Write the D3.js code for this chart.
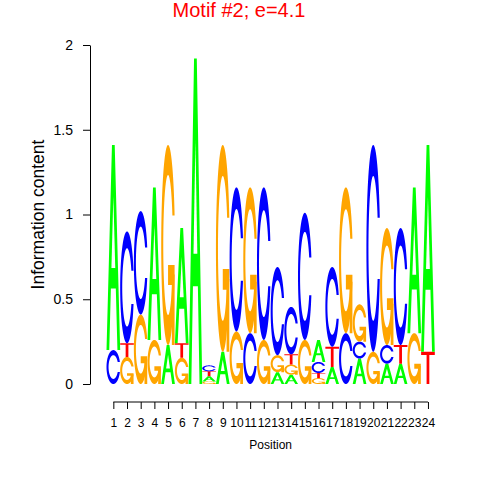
<!DOCTYPE html>
<html>
<head>
<meta charset="utf-8">
<script src="https://cdn.jsdelivr.net/npm/d3@7"></script>
<style>
  html, body { margin: 0; padding: 0; background: #fff; }
  svg { display: block; }
  text { font-family: "Liberation Sans", Arial, Helvetica, sans-serif; }
</style>
</head>
<body>
<svg id="chart" width="480" height="480"></svg>
<script>
// ---- data (information content per letter, per position) ----
const positions = d3.range(1, 25);
const hA = [1.21, 0, 0, 0.90, 0.23, 0.68, 1.92, 0.03, 0.19, 0, 0, 0, 0.07, 0.055, 0, 0.13, 0.10, 0, 0.15, 0, 0.12, 0.12, 0.86, 1.22];
const hC = [0.20, 0.66, 0.61, 0, 0, 0, 0, 0.035, 0, 0.85, 0.30, 0.90, 0.52, 0.28, 0.75, 0.065, 0.47, 0.30, 0.10, 1.22, 0.11, 0.69, 0, 0];
const hG = [0, 0.16, 0.41, 0.26, 1.18, 0.155, 0, 0.015, 1.22, 0.31, 0.86, 0.26, 0.10, 0.06, 0.26, 0.035, 0, 0.86, 0.22, 0.19, 0.69, 0, 0.30, 0];
const hT = [0, 0.08, 0, 0, 0, 0.085, 0, 0.03, 0, 0, 0, 0, 0, 0.06, 0, 0.03, 0.12, 0, 0, 0, 0, 0.11, 0, 0.19];
// stacking order, bottom to top
const stackOrder = ["CA","GTC","GC","GA","AG","GTA","A","GATC","AG","GC","CG","GC","AGC","AGTC","GC","GTCA","ATC","CG","ACG","GC","ACG","ATC","GA","TA"];
const yTicks = [0, 0.5, 1, 1.5, 2];
const titleText = "Motif #2; e=4.1";
const xLabel = "Position";
const yLabel = "Information content";

const heights = {A: hA, C: hC, G: hG, T: hT};
const colors = {A: "#00FF00", C: "#0000FF", G: "#FFA500", T: "#FF0000"};

// ---- letter shapes in unit box (x right, y up) ----
function arcPts(r, a0, a1, n) {
  const pts = [];
  for (let i = 0; i < n; i++) {
    const a = a0 + (a1 - a0) * i / (n - 1);
    pts.push([0.5 + r * Math.sin(a), 0.5 + r * Math.cos(a)]);
  }
  return pts;
}
function ringC() {
  const l1 = arcPts(0.5, 0.3 + Math.PI / 2, Math.PI, 100);
  const l2 = arcPts(0.5, Math.PI, 1.5 * Math.PI, 100);
  const l = l1.concat(l2);
  const maxY = d3.max(l1, p => p[1]);
  const outer = l.concat(l.slice().reverse().map(p => [p[0], 1 - p[1]]));
  const i1 = arcPts(0.35, 0.3 + Math.PI / 2, Math.PI, 100).filter(p => p[1] <= maxY);
  i1[0] = [i1[0][0], maxY];
  const i2 = arcPts(0.35, Math.PI, 1.5 * Math.PI, 100);
  const inner = i1.concat(i2);
  const inner2 = inner.concat(inner.slice().reverse().map(p => [p[0], 1 - p[1]]));
  return outer.concat(inner2.slice().reverse());
}
function shapes(letter) {
  if (letter === "A") {
    return [{pts: [[0,0],[0.4,1],[0.6,1],[1,0],[0.8,0],[0.68,0.3],[0.32,0.3],[0.2,0]], fill: colors.A},
            {pts: [[0.36,0.4],[0.5,0.75],[0.64,0.4]], fill: "#FFFFFF"}];
  }
  if (letter === "T") {
    return [{pts: [[0,1],[1,1],[1,0.9],[0.6,0.9],[0.6,0],[0.4,0],[0.4,0.9],[0,0.9]], fill: colors.T}];
  }
  if (letter === "C") {
    return [{pts: ringC(), fill: colors.C}];
  }
  // G
  const r1 = 0.5 + 0.5 * Math.sin(0.3 + Math.PI / 2);
  const h1 = 0.4;
  return [{pts: ringC(), fill: colors.G},
          {pts: [[r1,h1],[0.5,h1],[0.5,h1-0.1],[r1-0.2,h1-0.1],[r1-0.2,0],[r1,0]], fill: colors.G}];
}

// ---- layout ----
const svg = d3.select("#chart");
const x = d3.scaleLinear().domain([0.5, 24.5]).range([106.5, 434.8]);
const y = d3.scaleLinear().domain([0, 2]).range([384, 45]);

// build letter list
const letters = [];
positions.forEach((p, i) => {
  let base = 0;
  for (const L of stackOrder[i]) {
    const h = heights[L][i];
    if (h > 0) {
      letters.push({pos: p, letter: L, y0: base, y1: base + h});
      base += h;
    }
  }
});

const line = d3.line();
const g = svg.append("g");
letters.forEach(d => {
  const xs = d3.scaleLinear().domain([0, 1]).range([x(d.pos - 0.5), x(d.pos + 0.5)]);
  const ys = d3.scaleLinear().domain([0, 1]).range([y(d.y0), y(d.y1)]);
  shapes(d.letter).forEach(s => {
    g.append("path")
      .attr("d", line(s.pts.map(p => [xs(p[0]), ys(p[1])])) + "Z")
      .attr("fill", s.fill)
      .attr("stroke", "none");
  });
});

// ---- axes ----
const yAxis = d3.axisLeft(y).tickValues(yTicks).tickFormat(d3.format("")).tickSize(7).tickSizeOuter(0).tickPadding(10);
const ya = svg.append("g").attr("transform", "translate(90,0)").call(yAxis);
ya.selectAll("text").attr("font-size", 14).attr("fill", "#000").attr("font-family", "Liberation Sans, Arial, sans-serif");
ya.selectAll("line, path").attr("stroke", "#000");

const xAxis = d3.axisBottom(x).tickValues(positions).tickSize(7).tickSizeOuter(0).tickPadding(9);
const xa = svg.append("g").attr("transform", "translate(0,402)").call(xAxis);
xa.select(".domain").remove();
xa.append("line").attr("x1", x(1)).attr("x2", x(24)).attr("y1", 0).attr("y2", 0).attr("stroke", "#000");
xa.selectAll("text").attr("font-size", 12).attr("fill", "#000").attr("font-family", "Liberation Sans, Arial, sans-serif");
xa.selectAll(".tick line").attr("stroke", "#000");

// ---- labels ----
svg.append("text").attr("x", 239).attr("y", 17).attr("text-anchor", "middle")
  .attr("font-size", 20).attr("fill", "#FF0000").text(titleText);
svg.append("text").attr("x", x(12.5)).attr("y", 449).attr("text-anchor", "middle")
  .attr("font-size", 12).attr("fill", "#000").text(xLabel);
svg.append("text").attr("transform", "translate(44," + y(1) + ") rotate(-90)").attr("text-anchor", "middle")
  .attr("font-size", 17.5).attr("fill", "#000").text(yLabel);
</script>
</body>
</html>
